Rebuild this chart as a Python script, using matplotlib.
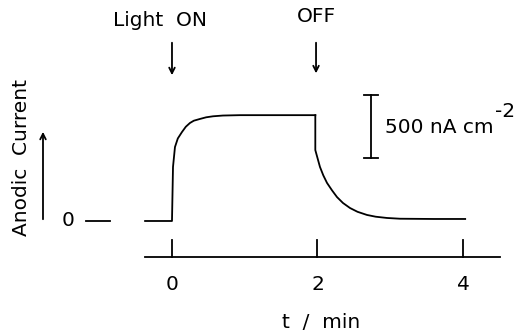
import matplotlib
matplotlib.use('Agg')
import matplotlib.pyplot as plt

# Photocurrent transient (t in min, current in nA cm^-2)
t_on = [-0.37, 0.0, 0.0, 0.014, 0.041, 0.08, 0.137, 0.19, 0.247, 0.3, 0.385,
        0.47, 0.564, 0.7, 0.935, 1.4, 1.97]
i_on = [0, 0, 0, 429, 587, 655, 706, 748, 778, 796, 810,
        823, 831, 837, 840, 840, 840]
t_off = [1.97, 1.97, 2.0, 2.034, 2.08, 2.131, 2.2, 2.268, 2.35, 2.447, 2.55,
         2.68, 2.8, 2.955, 3.134, 3.6, 4.03]
i_off = [840, 563, 500, 429, 362, 302, 243, 190, 143, 103, 73,
         48, 34, 24, 18, 16, 16]

x_ticks = [0, 2, 4]
x_tick_labels = ['0', '2', '4']
scale_bar = [500, 1000]

fs = 14.5
fig = plt.figure(figsize=(5.26, 3.33), dpi=100)
ax = fig.add_axes([0, 0, 1, 1])
ax.set_xlim(-2.364, 4.866)
ax.set_ylim(-889, 1754)
ax.axis('off')

lw = 1.3
ax.plot(t_on, i_on, color='black', lw=lw, solid_joinstyle='round')
ax.plot(t_off, i_off, color='black', lw=lw, solid_joinstyle='round')

# time axis with upward ticks
ax.plot([-0.37, 4.51], [-286, -286], color='black', lw=lw)
for xt, lab in zip(x_ticks, x_tick_labels):
    ax.plot([xt, xt], [-286, -151], color='black', lw=lw)
    ax.text(xt, -508, lab, ha='center', va='center', fontsize=fs)
ax.text(2.05, -805, 't  /  min', ha='center', va='center', fontsize=fs)

# zero marker
ax.text(-1.43, 0, '0', ha='center', va='center', fontsize=fs)
ax.plot([-1.18, -0.85], [0, 0], color='black', lw=lw)

# y label and arrow
ax.text(-2.07, 500, 'Anodic  Current', rotation=90, ha='center', va='center', fontsize=fs)
ax.annotate('', xy=(-1.773, 730), xytext=(-1.773, -8),
            arrowprops=dict(arrowstyle='->', color='black', lw=lw))

# light on/off markers
ax.text(-0.16, 1590, 'Light  ON', ha='center', va='center', fontsize=fs)
ax.annotate('', xy=(0, 1135), xytext=(0, 1437),
            arrowprops=dict(arrowstyle='->', color='black', lw=lw))
ax.text(1.98, 1620, 'OFF', ha='center', va='center', fontsize=fs)
ax.annotate('', xy=(1.98, 1150), xytext=(1.98, 1437),
            arrowprops=dict(arrowstyle='->', color='black', lw=lw))

# scale bar
xb = 2.735
ax.plot([xb, xb], scale_bar, color='black', lw=lw)
for yb in scale_bar:
    ax.plot([xb - 0.09, xb + 0.09], [yb, yb], color='black', lw=lw)
unit = ax.text(2.93, 746, '500 nA cm', ha='left', va='center', fontsize=fs)
ax.annotate('-2', xy=(1, 0.5), xycoords=unit, xytext=(1, 11),
            textcoords='offset points', ha='left', va='center', fontsize=fs)

fig.savefig('out.png', dpi=100)
